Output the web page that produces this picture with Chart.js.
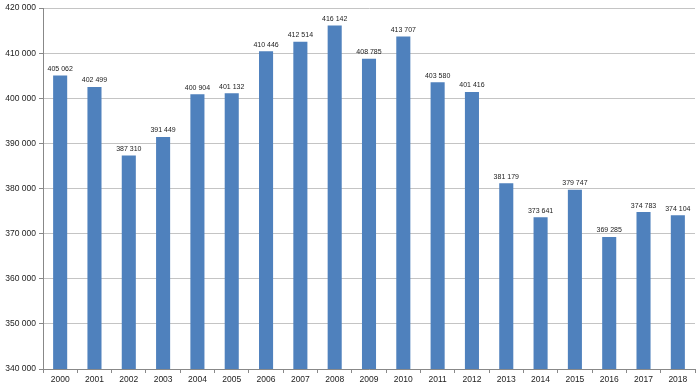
<!DOCTYPE html>
<html>
<head>
<meta charset="utf-8">
<script src="https://cdn.jsdelivr.net/npm/chart.js@4"></script>
<style>
    html, body { margin: 0; padding: 0; background: #fff; }
    #wrap { width: 700px; height: 388px; }
</style>
</head>
<body>
<div id="wrap"><canvas id="chart"></canvas></div>
<script>
    // Данные
    const years = ['2000', '2001', '2002', '2003', '2004', '2005', '2006', '2007', '2008', '2009',
                   '2010', '2011', '2012', '2013', '2014', '2015', '2016', '2017', '2018'];
    const values = [405062, 402499, 387310, 391449, 400904, 401132, 410446, 412514, 416142, 408785,
                    413707, 403580, 401416, 381179, 373641, 379747, 369285, 374783, 374104];
    const yMin = 340000;
    const yMax = 420000;
    const yStep = 10000;

    function fmt(v) {
        return String(v).replace(/\B(?=(\d{3})+(?!\d))/g, ' ');
    }

    // Подписи над столбцами
    const barLabels = {
        id: 'barLabels',
        afterDatasetsDraw(chart) {
            const ctx = chart.ctx;
            const meta = chart.getDatasetMeta(0);
            ctx.save();
            ctx.font = '7px "Liberation Sans", Arial, sans-serif';
            ctx.fillStyle = '#222';
            ctx.textAlign = 'center';
            ctx.textBaseline = 'bottom';
            meta.data.forEach((bar, i) => {
                ctx.fillText(fmt(values[i]), bar.x, bar.y - 3);
            });
            ctx.restore();
        }
    };

    new Chart(document.getElementById('chart').getContext('2d'), {
        type: 'bar',
        data: {
            labels: years,
            datasets: [{
                data: values,
                backgroundColor: '#4f81bd',
                borderColor: '#5b8cc6',
                borderWidth: 0,
                categoryPercentage: 1,
                barPercentage: 0.41
            }]
        },
        options: {
            responsive: true,
            maintainAspectRatio: false,
            animation: false,
            layout: { padding: { top: 7, right: 5, left: 0, bottom: 0 } },
            plugins: {
                legend: { display: false },
                tooltip: { enabled: false }
            },
            scales: {
                x: {
                    offset: true,
                    grid: {
                        offset: true,
                        drawOnChartArea: false,
                        drawTicks: true,
                        tickLength: 4,
                        color: '#888'
                    },
                    border: { color: '#888' },
                    ticks: {
                        color: '#222',
                        font: { family: '"Liberation Sans", Arial, sans-serif', size: 8.5 },
                        padding: 2,
                        maxRotation: 0,
                        autoSkip: false
                    },
                    afterFit(axis) { axis.height = 19; }
                },
                y: {
                    min: yMin,
                    max: yMax,
                    grid: {
                        color: '#c4c4c4',
                        tickLength: 4,
                        tickColor: '#888'
                    },
                    border: { color: '#888' },
                    ticks: {
                        stepSize: yStep,
                        color: '#222',
                        font: { family: '"Liberation Sans", Arial, sans-serif', size: 8.5 },
                        padding: 3,
                        callback: v => fmt(v)
                    },
                    afterFit(axis) { axis.width = 43; }
                }
            }
        },
        plugins: [barLabels]
    });
</script>
</body>
</html>
